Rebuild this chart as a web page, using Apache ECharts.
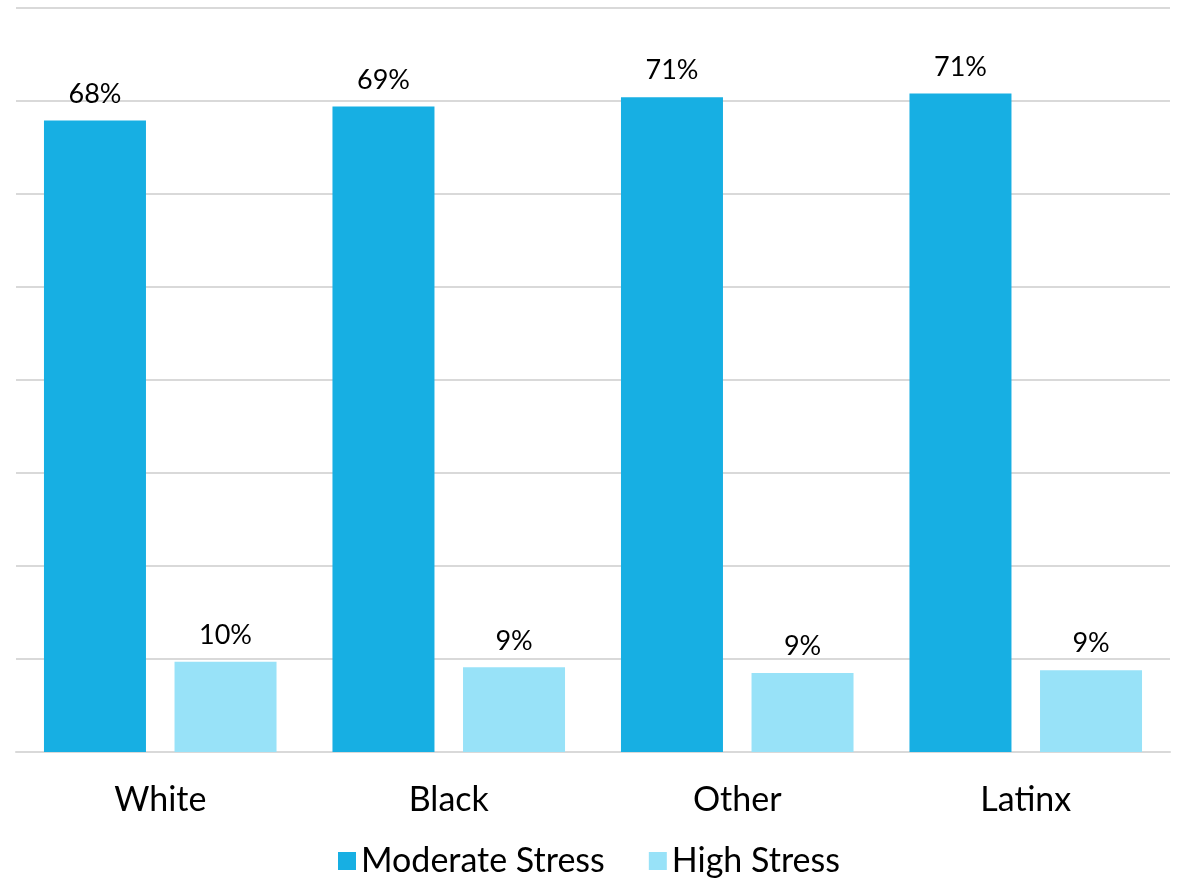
<!DOCTYPE html>
<html><head><meta charset="utf-8">
<script src="https://cdn.jsdelivr.net/npm/echarts@6/dist/echarts.min.js"></script>
<style>html,body{margin:0;padding:0;background:#fff}#c{width:1178px;height:885px}</style>
</head><body><div id="c"></div>
<script>
const categories = ['White', 'Black', 'Other', 'Latinx'];
const moderateStress = [67.9, 69.4, 70.4, 70.8];
const highStress = [9.7, 9.1, 8.5, 8.8];
const moderateLabels = ['68%', '69%', '71%', '71%'];
const highLabels = ['10%', '9%', '9%', '9%'];
const yTicks = [0, 10, 20, 30, 40, 50, 60, 70, 80];

const font = 'Lato, "Open Sans", sans-serif';
const chart = echarts.init(document.getElementById('c'));
chart.setOption({
  animation: false,
  grid: { left: 16, right: 8, top: 8, bottom: 133, containLabel: false },
  legend: {
    bottom: 2, left: 'center', itemWidth: 18, itemHeight: 18, itemGap: 44,
    icon: 'rect',
    textStyle: { fontFamily: font, fontSize: 34, color: '#000' },
    data: ['Moderate Stress', 'High Stress']
  },
  xAxis: {
    type: 'category', data: categories,
    axisLine: { lineStyle: { color: '#d9d9d9', width: 2 } },
    axisTick: { show: false },
    axisLabel: { fontFamily: font, fontSize: 34, color: '#000', margin: 31 }
  },
  yAxis: {
    type: 'value', min: yTicks[0], max: yTicks[yTicks.length - 1], interval: 10,
    axisLabel: { show: false }, axisLine: { show: false }, axisTick: { show: false },
    splitLine: { lineStyle: { color: '#d9d9d9', width: 2 } }
  },
  series: [
    {
      name: 'Moderate Stress', type: 'bar', data: moderateStress,
      barWidth: 102, barGap: '28%',
      itemStyle: { color: '#17afe3' },
      label: { show: true, position: 'top', distance: 13, fontFamily: font, fontSize: 27, color: '#000',
        formatter: p => moderateLabels[p.dataIndex] }
    },
    {
      name: 'High Stress', type: 'bar', data: highStress,
      barWidth: 102,
      itemStyle: { color: '#98e2f8' },
      label: { show: true, position: 'top', distance: 13, fontFamily: font, fontSize: 27, color: '#000',
        formatter: p => highLabels[p.dataIndex] }
    }
  ]
});
</script></body></html>
